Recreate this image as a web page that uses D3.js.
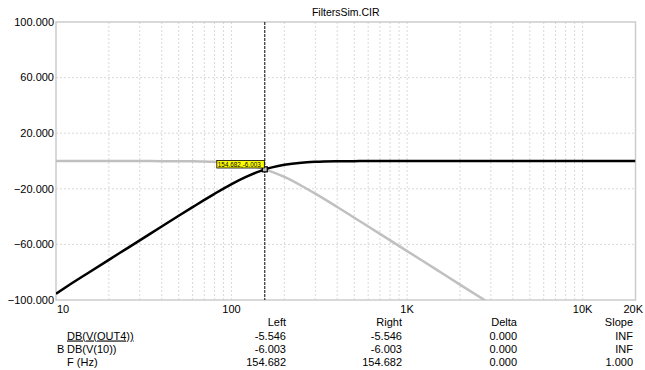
<!DOCTYPE html>
<html>
<head>
<meta charset="utf-8">
<script src="https://cdn.jsdelivr.net/npm/d3@7"></script>
<style>
  body { margin: 0; background: #fff; }
  svg { display: block; }
  text { font-family: Arial, "Liberation Sans", sans-serif; fill: #000; }
</style>
</head>
<body>
<svg id="chart" width="645" height="370"></svg>
<script>
// frequency points (Hz)
const freqs = [10, 12, 15, 20, 25, 30, 40, 50, 60, 70, 80, 100, 120, 140, 155, 170, 200, 250, 300, 400, 500, 700, 1000, 1500, 2000, 3000, 5000, 10000, 20000];
// black trace (high-pass)
const dbOut4 = [-95.5, -88.9, -81.1, -71.1, -63.4, -57.1, -47.1, -39.4, -33.2, -28.0, -23.6, -16.6, -11.6, -8.0, -6.0, -4.6, -2.7, -1.2, -0.6, -0.2, -0.1, 0, 0, 0, 0, 0, 0, 0, 0];
// grey trace (low-pass)
const dbV10 = [0, 0, 0, 0, 0, 0, -0.1, -0.1, -0.2, -0.35, -0.6, -1.4, -2.7, -4.4, -6.0, -7.8, -11.5, -17.8, -23.5, -33.1, -40.8, -52.4, -64.8, -78.9, -88.9, -102.9, null, null, null];

const yTicks = [100, 60, 20, -20, -60, -100];
const xTickVals = [10, 100, 1000, 10000, 20000];
const xTickLabels = ['10', '100', '1K', '10K', '20K'];

const cursorF = 154.682;
const cursorY = -6.003;
const tableHead = ['Left', 'Right', 'Delta', 'Slope'];
const tableNames = ['DB(V(OUT4))', 'DB(V(10))', 'F (Hz)'];
const tableRows = [
  ['-5.546', '-5.546', '0.000', 'INF'],
  ['-6.003', '-6.003', '0.000', 'INF'],
  ['154.682', '154.682', '0.000', '1.000']
];

const svg = d3.select('#chart');
const pL = 56, pR = 635.5, pT = 22, pB = 300;

const x = d3.scaleLog().domain([10, 20000]).range([pL, pR]);
const y = d3.scaleLinear().domain([-100, 100]).range([pB, pT]);

svg.append('defs').append('clipPath').attr('id', 'plotclip')
  .append('rect').attr('x', pL).attr('y', pT)
  .attr('width', pR - pL).attr('height', pB - pT);

// grid lines
const gridF = [];
[10, 100, 1000].forEach(d => { for (let k = 2; k <= 10; k++) gridF.push(d * k); });
svg.append('g')
  .selectAll('line')
  .data(gridF.filter(f => f < 20000))
  .enter()
  .append('line')
  .attr('x1', d => x(d)).attr('x2', d => x(d))
  .attr('y1', pT).attr('y2', pB)
  .style('stroke', '#d9d9d9')
  .style('stroke-dasharray', '2,2');

svg.append('g')
  .selectAll('line')
  .data(yTicks.filter(d => d !== 100 && d !== -100))
  .enter()
  .append('line')
  .attr('x1', pL).attr('x2', pR)
  .attr('y1', d => y(d)).attr('y2', d => y(d))
  .style('stroke', '#d9d9d9')
  .style('stroke-dasharray', '2,2');

// plot frame
svg.append('rect')
  .attr('x', pL).attr('y', pT)
  .attr('width', pR - pL).attr('height', pB - pT)
  .style('fill', 'none')
  .style('stroke', '#cccccc')
  .style('stroke-width', 1.5);

// title
svg.append('text')
  .attr('x', (pL + pR) / 2).attr('y', 16)
  .attr('text-anchor', 'middle')
  .style('font-size', '10.5px')
  .text('FiltersSim.CIR');

// y labels
svg.append('g')
  .selectAll('text')
  .data(yTicks)
  .enter()
  .append('text')
  .attr('x', 54)
  .attr('y', d => y(d))
  .attr('dy', '0.35em')
  .attr('text-anchor', 'end')
  .style('font-size', '11px')
  .text(d => d3.format('.3f')(d));

// x labels
svg.append('g')
  .selectAll('text')
  .data(xTickVals)
  .enter()
  .append('text')
  .attr('x', (d, i) => i === 0 ? pL + 1 : (i === xTickVals.length - 1 ? 643 : x(d)))
  .attr('y', 313)
  .attr('text-anchor', (d, i) => i === 0 ? 'start' : (i === xTickVals.length - 1 ? 'end' : 'middle'))
  .style('font-size', '11px')
  .text((d, i) => xTickLabels[i]);

// traces
const line = d3.line()
  .defined(d => d[1] !== null)
  .x(d => x(d[0]))
  .y(d => y(d[1]))
  .curve(d3.curveMonotoneX);

const plot = svg.append('g').attr('clip-path', 'url(#plotclip)');
plot.append('path')
  .attr('d', line(freqs.map((f, i) => [f, dbV10[i]])))
  .style('fill', 'none')
  .style('stroke', '#c0c0c0')
  .style('stroke-width', 2.5);
plot.append('path')
  .attr('d', line(freqs.map((f, i) => [f, dbOut4[i]])))
  .style('fill', 'none')
  .style('stroke', '#000')
  .style('stroke-width', 2.5);

// cursor
const cx = x(cursorF);
svg.append('line')
  .attr('x1', cx).attr('x2', cx)
  .attr('y1', pT).attr('y2', pB)
  .style('stroke', '#000')
  .style('stroke-width', 1)
  .style('stroke-dasharray', '3,1');

svg.append('rect')
  .attr('x', cx - 2.5).attr('y', y(cursorY) - 2.5)
  .attr('width', 5).attr('height', 5)
  .style('fill', '#bbbbbb')
  .style('stroke', '#000')
  .style('stroke-width', 1.2);

const lbl = cursorF.toFixed(3) + ',' + cursorY.toFixed(3);
svg.append('rect')
  .attr('x', cx - 48).attr('y', 160.5)
  .attr('width', 47.5).attr('height', 7.5)
  .style('fill', '#ffff00')
  .style('stroke', '#000')
  .style('stroke-width', 0.8);
svg.append('text')
  .attr('x', cx - 47).attr('y', 166.6)
  .style('font-size', '6.4px')
  .text(lbl);

// cursor table
const colX = [286, 402, 517, 633];
const rowY = [339.5, 352.5, 365.5];
svg.append('g')
  .selectAll('text')
  .data(tableHead)
  .enter()
  .append('text')
  .attr('x', (d, i) => colX[i])
  .attr('y', 326)
  .attr('text-anchor', 'end')
  .style('font-size', '11px')
  .text(d => d);

tableRows.forEach((row, r) => {
  svg.append('g')
    .selectAll('text')
    .data(row)
    .enter()
    .append('text')
    .attr('x', (d, i) => colX[i])
    .attr('y', rowY[r])
    .attr('text-anchor', 'end')
    .style('font-size', '11px')
    .text(d => d);
  svg.append('text')
    .attr('x', 67)
    .attr('y', rowY[r])
    .style('font-size', '11px')
    .style('text-decoration', r === 0 ? 'underline' : 'none')
    .text(tableNames[r]);
});
svg.append('text')
  .attr('x', 57).attr('y', rowY[1])
  .style('font-size', '11px')
  .text('B');
</script>
</body>
</html>
